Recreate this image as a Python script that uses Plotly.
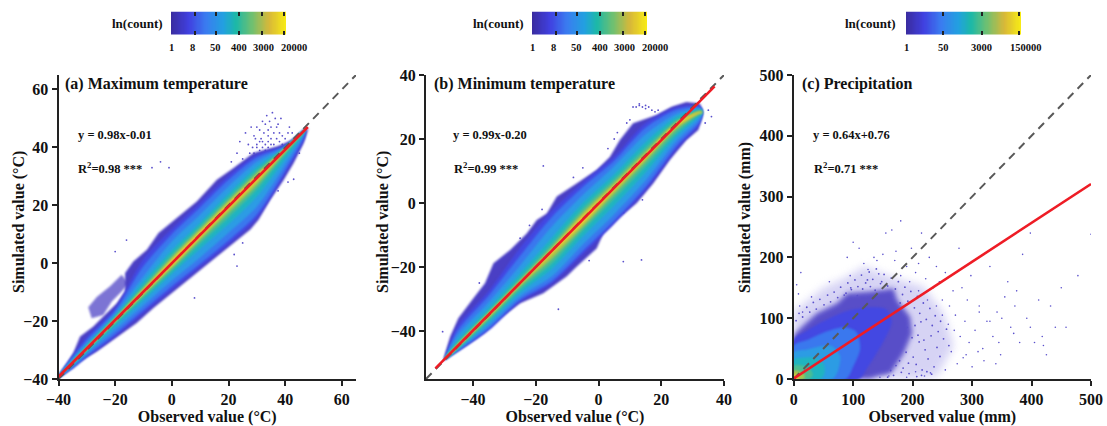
import math
import plotly.graph_objects as go

W, H = 1107, 426
FONT = "Liberation Serif"

# ---------- colour levels (colorbar stops, low to high density) ----------
bar_stops = [[0, "#3a2ca0"], [0.15, "#4040e0"], [0.30, "#3a7cf0"], [0.45, "#22a0e0"],
             [0.56, "#1cb8a8"], [0.70, "#70c070"], [0.85, "#d8b838"], [1, "#f9ee14"]]
outer_color = "#4a3fc4"
c_outer_color = "#4b40c4"
c_sparse_color = "#b5b0ec"
level_colors = ["#4348e2", "#3a78ee", "#2c9ce4", "#20b4c0", "#4cbd90", "#a8c44c", "#f0cc30"]

# ---------- panel (a) ----------
a_outer_x = [-40, -34.8, -32.4, -27.7, -24.2, -19.4, -16.5, -16.5, -13.6, -8.8, -4.7, 1.8, 8.8, 15.9, 21.8, 28.8, 37.1, 43, 48.3,
             46.5, 43, 39.5, 34.7, 30.6, 27.7, 21.8, 15.9, 10, 3, -1.8, -6.5, -12.4, -20.6, -26.5, -33.6, -39.5]
a_outer_y = [-39.5, -31.1, -25.3, -21.9, -18.4, -13.8, -9.8, -3.4, 0.6, 4.6, 10.4, 15.5, 21.3, 28.8, 32.9, 38.1, 40.3, 42.7, 46.7,
             41.5, 34.6, 28.8, 21.9, 15, 11.6, 7, 2.3, -2.3, -8, -11.5, -15.5, -20.7, -26.5, -30.5, -34.6, -39.5]
a_lobe_x = [-29.5, -26.5, -21.8, -17.7, -15.3, -17.7, -21.2, -24.2, -28.3]
a_lobe_y = [-15.2, -11.7, -8, -4, -6.9, -9.8, -13.2, -17.9, -19]
a_x = [-40, -35, -30, -20, -10, 0, 10, 20, 30, 40, 47]
a_upper = [
    [-38.9, -31.8, -25.5, -15.5, 1.5, 11.8, 21, 30.3, 37.5, 40.8, 46.2],
    [-39, -32.5, -26.5, -16.5, -1, 10, 19.3, 28.8, 36.5, 40.5, 46.2],
    [-39, -33, -27.5, -17.3, -4.5, 7.5, 16.8, 26.5, 35, 40.2, 46.1],
    [-39.1, -33.6, -28.3, -18.1, -6.5, 4.5, 14, 24, 33.2, 40, 46.1],
    [-39.2, -34, -28.8, -18.7, -7.8, 3, 12.8, 22.6, 32, 39.8, 46],
    [-39.2, -34.2, -29.1, -19.1, -8.6, 2, 11.8, 21.6, 31, 39.6, 46],
    [-39.2, -34.3, -29.3, -19.4, -9.2, 1.2, 11, 20.8, 30.3, 39.5, 46],
]
a_lower = [
    [-39.4, -36.5, -32.5, -25.3, -17.2, -9.2, -1.3, 6.5, 15.5, 31, 43.5],
    [-39.4, -36.2, -32, -24.5, -16.2, -8, -0.2, 7.8, 16.8, 32, 44.5],
    [-39.3, -35.5, -31.2, -23, -14.5, -6, 2, 10.5, 19.5, 34, 45.3],
    [-39.3, -35, -30.6, -21.6, -12.8, -3.7, 5, 13.5, 23, 36, 45.6],
    [-39.2, -34.7, -30.1, -20.8, -11.8, -2.6, 6.8, 15.8, 25.5, 37.5, 45.8],
    [-39.2, -34.5, -29.8, -20.3, -11, -1.7, 8, 17.4, 27, 38.3, 45.9],
    [-39.2, -34.4, -29.6, -19.9, -10.4, -1, 8.9, 18.6, 28.2, 38.8, 46],
]
a_dots_x = [21, 23, 24, 25, 26, 27, 27.5, 28, 28.5, 29, 29, 30, 30, 31, 31, 31.5, 32, 32, 32.5, 33, 33, 33.5, 34, 34, 34, 34.5, 35, 35,
            35.5, 36, 36, 36.5, 37, 37, 37.5, 38, 38, 38.5, 39, 39, 40, 41, 41.5, 42.5, 44, 45, 30, 32, 33, 34, 35, 36, 31, 29.5,
            -20, -16, -1, 13, 13, 23, 22, 25, 37.5, 41, 43, -7, -4, 8]
a_dots_y = [35, 38, 42, 36, 45, 41, 38, 47, 40, 44, 38, 47, 41, 46, 39, 43, 49, 42, 45, 48, 41, 51, 44, 46, 40, 49, 47, 43,
            52, 45, 41, 50, 47, 43, 48, 45, 42, 50, 44, 41, 43, 45, 47, 45, 41, 38, 40, 40, 39, 42, 41, 39, 42, 43,
            4, 8, 33, 4, 2, -1, 3, 7, 25, 28, 29, 33, 35, -12]

# ---------- panel (b) ----------
b_outer_x = [-49.5, -48.9, -47.3, -44.7, -39.9, -36.2, -33.5, -28.2, -22.9, -19.7, -16.5, -13.3, -7, -0.6, 3.6, 6.8, 11, 18.5, 23.3, 28, 32.3, 33.4,
             31.8, 28, 22.7, 17.4, 12.1, 6.8, 1.5, -0.6, -7, -10.2, -17.6, -25, -31.4, -36.7, -42, -47.3]
b_outer_y = [-49.5, -47, -41.8, -36, -29.8, -25.1, -18.8, -14.7, -9.5, -5.3, -3.3, 2, 6.1, 10.3, 14.4, 19.7, 24.9, 27.5, 30.1, 31.6, 31.1, 28,
             22.8, 19.7, 13.4, 6.1, -0.1, -4.3, -9.5, -14.2, -19.9, -23, -28.2, -31.3, -36, -40.7, -44.4, -47.5]
b_x = [-49, -45, -35, -25, -15, -5, 5, 15, 25, 32, 33]
b_upper = [
    [-48.7, -38.5, -27.5, -14, -2.5, 6.5, 14.5, 25, 30, 30.5, 29.5],
    [-48.7, -40, -29, -16.5, -4.5, 5, 13.2, 23.5, 29.2, 30, 29.3],
    [-48.7, -41.5, -31, -19.5, -7.5, 2.5, 11.5, 21.5, 28, 29.6, 29.1],
    [-48.7, -43, -32.8, -22, -11, 0, 9, 19, 27, 29.2, 29],
    [-48.7, -43.8, -33.8, -23.5, -12.8, -1.7, 7.5, 17.3, 26, 28.9, 28.8],
    [-48.7, -44.2, -34.3, -24.2, -14, -3, 6.3, 16, 25.4, 28.6, 28.6],
    [-48.7, -44.5, -34.6, -24.7, -14.6, -4, 5.5, 15.3, 25, 28.4, 28.4],
]
b_lower = [
    [-48.9, -46.6, -39.8, -30.8, -25.2, -16, -6.5, 4, 17, 24.3, 27],
    [-48.9, -46.3, -39.2, -30.2, -24.5, -15, -5.5, 5, 18, 25, 27.3],
    [-48.8, -46, -38.3, -29.2, -23, -13, -3.5, 7, 19.5, 26, 27.6],
    [-48.8, -45.8, -37.3, -28, -20.7, -10.5, -0.8, 9.5, 21, 27, 27.9],
    [-48.8, -45.5, -36.6, -27, -19, -8.7, 1.3, 11.5, 22, 27.5, 28.1],
    [-48.8, -45.2, -35.9, -26, -17.5, -7.5, 2.8, 13, 23.2, 27.9, 28.2],
    [-48.8, -44.9, -35.3, -25.4, -16, -6.4, 4, 14, 24, 28.1, 28.3],
]
b_dots_x = [11, 12, 13, 14, 15, 16, 17, 18, 19, 13, 15, 7.9, 13.7, -12.8, -17.6, -49.7, -38, -25, -22, -18, -8, -5, 3, 5, 6, 9, 10, 35, 36, 34, -3, 14, 11, 8]
b_dots_y = [30, 30, 30.5, 30, 29.5, 30, 29, 28.5, 29, 31, 30.5, -18.3, -17.8, -33.2, 11.6, -40.2, -25, -11, -7, -2, 8, 11, 17, 20, 22, 25, 26, 29, 27, 25, -18, 1, 2, -3]

# ---------- panel (c) ----------
c_sparse_x = [0, 0, 50, 90, 118, 163, 218, 252, 269, 241, 200, 0]
c_sparse_y = [0, 110, 150, 168, 185, 168, 152, 108, 54, 4, 0, 0]
c_outer_x = [0, 0, 14, 39, 73, 90, 129, 168, 174, 196, 199, 185, 163, 140, 129]
c_outer_y = [0, 72.3, 86, 108, 124.4, 141, 144, 149, 130, 102, 75, 42, 9, 4, 0]
c_level_x = [
    [0, 0, 20, 50, 90, 130, 155, 165, 150, 125, 110],
    [0, 0, 25, 55, 85, 105, 112, 100, 88],
    [0, 0, 20, 45, 65, 78, 75, 65],
    [0, 0, 15, 35, 50, 52, 45],
    [0, 0, 15, 28, 32, 26],
    [0, 0, 10, 18, 17],
    [0, 0, 6, 9],
]
c_level_y = [
    [0, 65, 78, 95, 112, 118, 115, 95, 60, 20, 0],
    [0, 55, 65, 78, 85, 78, 50, 20, 0],
    [0, 44, 48, 54, 54, 38, 15, 0],
    [0, 32, 35, 35, 25, 10, 0],
    [0, 22, 22, 16, 6, 0],
    [0, 14, 12, 7, 0],
    [0, 8, 6, 0],
]
c_dots_x = [5, 8, 12, 95, 100, 118, 125, 140, 150, 155, 165, 172, 180, 190, 198, 205, 210, 215, 222, 228, 235, 240, 245, 250, 255, 262, 268, 272, 278, 283,
            288, 292, 298, 305, 312, 318, 325, 330, 335, 342, 348, 355, 360, 365, 372, 380, 385, 392, 398, 405, 412, 418, 425, 432, 440, 450, 458, 478,
            500, 170, 180, 195, 210, 225, 240, 250, 260, 270, 280, 295, 310, 320, 340, 350, 370, 300, 285, 265, 255, 230, 220, 205, 190, 160, 145, 135,
            110, 90, 60, 30, 15, 10, 420, 398, 375, 345, 330, 312, 290, 275]
c_dots_y = [155, 140, 175, 170, 225, 190, 180, 195, 205, 240, 245, 210, 260, 185, 215, 175, 190, 240, 165, 200, 150, 185, 160, 130, 175, 120, 145, 105, 215, 150,
            95, 130, 170, 80, 120, 50, 95, 185, 70, 110, 40, 135, 160, 85, 120, 60, 205, 100, 240, 60, 130, 70, 40, 120, 85, 150, 85, 170,
            238, 195, 170, 160, 145, 130, 120, 105, 90, 80, 70, 60, 45, 30, 25, 100, 75, 20, 35, 45, 15, 10, 5, 12, 3, 5, 3, 200,
            215, 200, 160, 135, 110, 120, 55, 85, 145, 60, 95, 110, 40, 25]
c_fringe_x = [4, 9, 15, 22, 27, 33, 38, 44, 51, 57, 62, 68, 74, 79, 85, 91, 97, 103, 108, 114, 121, 127, 133, 139, 146, 152, 158, 164, 171, 176,
              183, 187, 192, 197, 203, 208, 212, 218, 223, 229, 233, 238, 243, 247, 252, 257, 261, 178, 184, 189, 194, 201, 206, 211, 216, 221, 226, 231, 236, 241,
              246, 204, 209, 214, 219, 173, 179, 186, 191, 199, 168, 163, 158, 172, 181, 193, 207, 215, 224, 232, 96, 88, 107, 116, 129, 137, 148, 155, 143, 124]
c_fringe_y = [96, 108, 102, 118, 110, 126, 115, 131, 122, 138, 127, 143, 134, 151, 138, 158, 147, 163, 152, 171, 158, 176, 164, 181, 157, 172, 153, 166, 148, 160,
              139, 151, 128, 144, 117, 136, 108, 125, 98, 116, 88, 104, 78, 95, 66, 82, 55, 30, 18, 44, 9, 36, 24, 61, 15, 48, 33, 71, 20, 52,
              37, 88, 72, 94, 64, 112, 125, 99, 85, 68, 6, 14, 3, 22, 11, 26, 4, 6, 12, 8, 150, 141, 137, 148, 152, 146, 160, 155, 173, 163]

# ---------- shared ----------
a_ticks = [-40, -20, 0, 20, 40, 60]
b_ticks = [-40, -20, 0, 20, 40]
c_ticks = [0, 100, 200, 300, 400, 500]
bar_ab_vals = [1, 8, 50, 400, 3000, 20000]
bar_c_vals = [1, 50, 3000, 150000]
bar_a_label_px = [171, 192, 215, 238.5, 263, 294]
bar_b_label_px = [532, 553, 576, 599.5, 624, 655]
bar_c_label_px = [906, 943, 981, 1026]

panels = [
    dict(n="", dom=(58.5, 356), rng=(-40, 65), ticks=a_ticks, unit="°C", title="(a) Maximum temperature", ylab=19, ymid=222,
         tx=63, eq="y = 0.98x-0.01", eqx=76, r2="R<sup>2</sup>=0.98 ***", rx=76, slope=0.98, icpt=-0.01, x0=-40, x1=48),
    dict(n="2", dom=(426, 724), rng=(-55, 40), ticks=b_ticks, unit="°C", title="(b) Minimum temperature", ylab=383, ymid=222,
         tx=432, eq="y = 0.99x-0.20", eqx=451, r2="R<sup>2</sup>=0.99 ***", rx=452, slope=0.99, icpt=-0.20, x0=-52, x1=37),
    dict(n="3", dom=(793.7, 1091), rng=(0, 500), ticks=c_ticks, unit="mm", title="(c) Precipitation", ylab=745, ymid=218,
         tx=800, eq="y = 0.64x+0.76", eqx=811, r2="R<sup>2</sup>=0.71 ***", rx=812, slope=0.64, icpt=0.76, x0=0, x1=500),
]
bars = [
    dict(n="4", left=171, vals=bar_ab_vals, top=math.log(24000), lx=110, labs=bar_a_label_px),
    dict(n="5", left=532, vals=bar_ab_vals, top=math.log(24000), lx=471, labs=bar_b_label_px),
    dict(n="6", left=906, vals=bar_c_vals, top=math.log(195000), lx=843, labs=bar_c_label_px),
]

fig = go.Figure()


def poly(x, y, color, n, opacity=1.0, smooth=False):
    line = dict(width=0, color=color)
    if smooth:
        line.update(shape="spline", smoothing=0.8)
    fig.add_trace(go.Scatter(x=list(x) + [x[0]], y=list(y) + [y[0]], mode="lines", fill="toself", fillcolor=color,
                             line=line, opacity=opacity, hoverinfo="skip", showlegend=False,
                             xaxis="x" + n, yaxis="y" + n))


def band(x, up, lo, color, n):
    poly(list(x) + list(x)[::-1], list(up) + list(lo)[::-1], color, n, smooth=True)


def dots(x, y, n, size=1.8):
    fig.add_trace(go.Scatter(x=x, y=y, mode="markers", marker=dict(size=size, color="#5a50cc"), hoverinfo="skip",
                             showlegend=False, xaxis="x" + n, yaxis="y" + n))


# panel a
dots(a_dots_x, a_dots_y, "")
poly(a_outer_x, a_outer_y, outer_color, "")
poly(a_lobe_x, a_lobe_y, outer_color, "", 0.72)
for c, u, l in zip(level_colors, a_upper, a_lower):
    band(a_x, u, l, c, "")
# panel b
dots(b_dots_x, b_dots_y, "2")
poly(b_outer_x, b_outer_y, outer_color, "2")
for c, u, l in zip(level_colors, b_upper, b_lower):
    band(b_x, u, l, c, "2")
# panel c
poly(c_sparse_x, c_sparse_y, c_sparse_color, "3", 0.55)
dots(c_dots_x, c_dots_y, "3", 1.6)
poly(c_outer_x, c_outer_y, c_outer_color, "3", 0.9)
dots(c_fringe_x, c_fringe_y, "3", 1.8)
for c, x, y in zip(level_colors, c_level_x, c_level_y):
    poly(x, y, c, "3", smooth=True)

annotations = []
for p in panels:
    n = p["n"]
    lo, hi = p["rng"]
    fig.add_trace(go.Scatter(x=[lo, hi], y=[lo, hi], mode="lines", line=dict(color="#595959", width=2, dash="8px,6px"),
                             hoverinfo="skip", showlegend=False, xaxis="x" + n, yaxis="y" + n))
    fig.add_trace(go.Scatter(x=[p["x0"], p["x1"]], y=[p["slope"] * p["x0"] + p["icpt"], p["slope"] * p["x1"] + p["icpt"]],
                             mode="lines", line=dict(color="#ee1c25", width=2.6), hoverinfo="skip", showlegend=False,
                             xaxis="x" + n, yaxis="y" + n))
    axis = dict(range=[lo, hi], tickvals=p["ticks"], ticks="outside", ticklen=5, tickwidth=2, tickcolor="#222", showline=True,
                linecolor="#222", linewidth=2, showgrid=False, zeroline=False, automargin=False,
                tickfont=dict(family=FONT, size=16, color="#111", weight=700))
    ttl = dict(family=FONT, size=16, color="#111", weight=700)
    fig.layout["xaxis" + n] = dict(axis, domain=[p["dom"][0] / W, p["dom"][1] / W], anchor="y" + n,
                                   title=dict(text=f"Observed value ({p['unit']})", font=ttl, standoff=7))
    fig.layout["yaxis" + n] = dict(axis, domain=[1 - 379 / H, 1 - 75 / H], anchor="x" + n)
    annotations.append(dict(text=f"<b>Simulated value ({p['unit']})</b>", x=p["ylab"] / W, y=1 - p["ymid"] / H, textangle=-90,
                            xanchor="center", font=dict(family=FONT, size=16, color="#111")))
    annotations.append(dict(text=f"<b>{p['title']}</b>", x=p["tx"] / W, y=1 - 84 / H, font=dict(family=FONT, size=16, color="#111")))
    annotations.append(dict(text=f"<b>{p['eq']}</b>", x=p["eqx"] / W, y=1 - 135 / H, font=dict(family=FONT, size=12.5, color="#111")))
    annotations.append(dict(text=f"<b>{p['r2']}</b>", x=p["rx"] / W, y=1 - 168 / H, font=dict(family=FONT, size=12.5, color="#111")))

for b in bars:
    n = b["n"]
    steps = 100
    xs = [b["top"] * i / steps for i in range(steps + 1)]
    fig.add_trace(go.Heatmap(x=xs, y=[0, 1], z=[xs, xs], colorscale=bar_stops, showscale=False, hoverinfo="skip",
                             xaxis="x" + n, yaxis="y" + n, zsmooth="best"))
    fig.layout["xaxis" + n] = dict(domain=[b["left"] / W, (b["left"] + 115) / W], anchor="y" + n, range=[0, b["top"]],
                                   tickvals=[math.log(v) for v in b["vals"]], showticklabels=False,
                                   ticks="inside", ticklen=4, tickwidth=1.5, tickcolor="#222", mirror="ticks", showline=False,
                                   automargin=False, showgrid=False, zeroline=False)
    fig.layout["yaxis" + n] = dict(domain=[1 - 35 / H, 1 - 11.5 / H], anchor="x" + n, range=[0, 1], visible=False)
    annotations.append(dict(text="<b>ln(count)</b>", x=b["lx"] / W, y=1 - 23 / H, font=dict(family=FONT, size=13, color="#111")))
    for v, px in zip(b["vals"], b["labs"]):
        annotations.append(dict(text=f"<b>{v}</b>", x=px / W, y=1 - 47 / H, xanchor="center", font=dict(family=FONT, size=10.5, color="#111")))

for a in annotations:
    a.setdefault("xanchor", "left")
    a.update(xref="paper", yref="paper", yanchor="middle", showarrow=False)

fig.update_layout(template="none", width=W, height=H, margin=dict(l=0, r=0, t=0, b=0), paper_bgcolor="white", plot_bgcolor="white",
                  annotations=annotations, showlegend=False)
# soften the stepped density fills so that they read as a continuous gradient, as in the source image
soften = ("document.body.style.margin='0';"
          "document.querySelectorAll('.js-fill').forEach(function(e){"
          "var f=e.style.fill||'';"
          "e.style.filter=f.indexOf('181, 176, 236')>=0?'blur(4px)':(f.indexOf('75, 64, 196')>=0?'blur(2.5px)':'blur(1.3px)');});")
fig.write_html("out.html", post_script=soften, config={"displayModeBar": False})
